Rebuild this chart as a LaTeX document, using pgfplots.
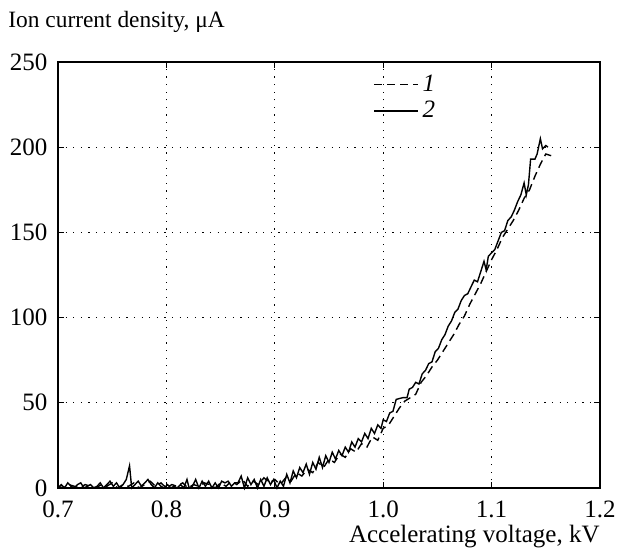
\documentclass[border=0pt]{standalone}
\usepackage{fontspec}
\setmainfont{Liberation Serif}
\usepackage{pgfplots}
\pgfplotsset{compat=1.18}

\begin{document}
\fontsize{12.5}{14}\selectfont
\begin{tikzpicture}
\begin{axis}[
  scale only axis,
  width=271pt, height=213pt,
  xmin=0.7, xmax=1.2, ymin=0, ymax=250,
  xtick={0.7,0.8,0.9,1.0,1.1,1.2},
  ytick={0,50,100,150,200,250},
  xticklabel style={yshift=-2pt, /pgf/number format/.cd, fixed, fixed zerofill, precision=1},
  yticklabel style={xshift=-1pt},
  /pgf/number format/assume math mode=true,
  tick label style={font=\fontsize{12.5}{14}\selectfont},
  tick align=inside,
  major tick length=3pt,
  tick style={black, line width=0.6pt},
  axis line style={line width=1.2pt},
  grid=major,
  major grid style={black, line width=0.6pt, dash pattern=on 0.6pt off 3.2pt},
  clip=false,
  legend style={at={(0.57,0.99)}, anchor=north west, draw=none, fill=none,
    row sep=-1pt, font=\fontsize{12.5}{14}\selectfont},
  legend cell align=left,
  legend image code/.code={\draw[#1] (0,0) -- (22pt,0);},
]
\addplot[black, line width=0.7pt, dash pattern=on 4pt off 2.5pt] coordinates {
(0.700,1)(0.705,0)(0.710,2)(0.715,1)(0.720,0)(0.725,2)(0.730,1)(0.735,0)
(0.740,2)(0.745,1)(0.750,3)(0.755,0)(0.760,2)(0.765,1)(0.770,3)(0.775,0)
(0.780,2)(0.785,4)(0.790,1)(0.795,3)(0.800,0)(0.805,2)(0.810,1)(0.815,3)
(0.820,0)(0.825,2)(0.830,1)(0.835,3)(0.840,2)(0.845,0)(0.850,3)(0.855,1)
(0.860,4)(0.865,2)(0.870,5)(0.875,1)(0.880,4)(0.885,2)(0.890,6)(0.895,3)
(0.900,5)(0.905,2)(0.910,6)(0.915,4)(0.920,9)(0.925,7)(0.930,11)(0.935,9)
(0.940,15)(0.945,12)(0.950,17)(0.955,15)(0.960,20)(0.965,18)(0.970,23)(0.975,21)
(0.980,26)(0.985,24)(0.990,30)(0.995,28)(1.000,35)(1.005,37)(1.010,42)(1.015,47)
(1.020,51)(1.025,53)(1.030,55)(1.035,62)(1.040,66)(1.045,71)(1.050,75)(1.055,80)
(1.060,85)(1.065,90)(1.070,96)(1.075,101)(1.080,108)(1.085,114)(1.090,120)(1.095,127)
(1.100,134)(1.105,140)(1.110,147)(1.115,152)(1.120,157)(1.125,163)(1.130,170)(1.135,175)
(1.140,183)(1.145,190)(1.150,196)(1.155,195)
};
\addlegendentry{\textit{1}}
\addplot[black, line width=0.7pt] coordinates {
(0.700,0)(0.703,2)(0.706,0)(0.709,3)(0.712,1)(0.715,0)(0.718,2)(0.721,3)
(0.724,0)(0.727,1)(0.730,2)(0.733,0)(0.736,1)(0.739,3)(0.742,0)(0.745,2)
(0.748,4)(0.751,1)(0.754,3)(0.757,0)(0.760,2)(0.763,5)(0.766,13)(0.768,0)
(0.771,2)(0.774,4)(0.777,1)(0.780,3)(0.783,5)(0.786,2)(0.789,0)(0.792,3)
(0.795,1)(0.798,0)(0.801,2)(0.804,0)(0.807,1)(0.810,0)(0.813,2)(0.816,0)
(0.819,5)(0.821,0)(0.824,1)(0.827,5)(0.830,0)(0.833,4)(0.836,1)(0.839,4)
(0.842,0)(0.845,3)(0.848,0)(0.851,4)(0.854,3)(0.857,4)(0.860,1)(0.863,3)
(0.866,3)(0.869,7)(0.872,0)(0.875,6)(0.878,2)(0.881,5)(0.884,0)(0.887,5)
(0.890,1)(0.893,6)(0.896,2)(0.899,5)(0.902,0)(0.905,4)(0.908,1)(0.911,8)
(0.914,3)(0.917,10)(0.920,6)(0.923,12)(0.926,9)(0.929,14)(0.932,8)(0.935,15)
(0.938,11)(0.941,18)(0.944,12)(0.947,19)(0.950,15)(0.953,21)(0.956,17)(0.959,22)
(0.962,19)(0.965,24)(0.968,21)(0.971,27)(0.974,24)(0.977,29)(0.980,27)(0.983,32)
(0.986,29)(0.989,35)(0.992,32)(0.995,37)(0.998,35)(1.000,40)(1.003,39)(1.006,44)
(1.009,45)(1.012,52)(1.018,53)(1.022,53)(1.024,58)(1.027,59)(1.030,62)(1.033,61)
(1.036,67)(1.039,69)(1.042,73)(1.045,74)(1.048,80)(1.051,82)(1.054,87)(1.057,90)
(1.060,95)(1.063,98)(1.066,103)(1.069,105)(1.072,110)(1.075,113)(1.078,114)(1.081,118)
(1.084,122)(1.087,121)(1.090,127)(1.093,133)(1.095,128)(1.097,136)(1.100,138)(1.103,140)
(1.106,145)(1.109,150)(1.112,151)(1.115,157)(1.118,159)(1.121,163)(1.124,168)(1.127,172)
(1.130,179)(1.132,172)(1.134,178)(1.136,193)(1.140,193)(1.142,196)(1.145,205)(1.147,199)
(1.150,201)(1.152,200)
};
\addlegendentry{\textit{2}}
\node[anchor=west, inner sep=0pt, font=\fontsize{11.7}{13}\selectfont] at (rel axis cs:-0.0923,1.094) {Ion current density, μA};
\node[anchor=east, inner sep=0pt] at (rel axis cs:1,-0.115) {Accelerating voltage, kV};
\end{axis}
\pgfresetboundingbox
\path[use as bounding box] (-29pt,-30.5pt) rectangle (279.5pt,244pt);
\end{tikzpicture}
\end{document}
